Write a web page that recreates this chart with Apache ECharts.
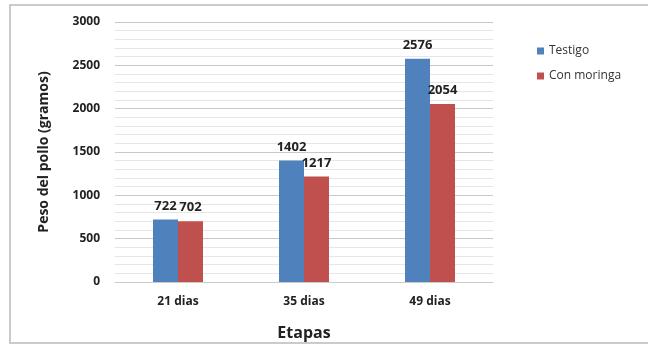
<!DOCTYPE html>
<html>
<head>
<meta charset="utf-8">
<script src="https://cdn.jsdelivr.net/npm/echarts@6/dist/echarts.min.js"></script>
<style>
  html, body { margin: 0; padding: 0; background: #fff; }
  #main { width: 648px; height: 352px; }
</style>
</head>
<body>
<div id="main"></div>
<script>
// datos del grafico
var etapas = ['21 dias', '35 dias', '49 dias'];
var testigo = [722, 1402, 2576];
var conMoringa = [702, 1217, 2054];
var nombresSeries = ['Testigo', 'Con moringa'];

var chart = echarts.init(document.getElementById('main'));
var fuente = 'Open Sans';

var etiqueta = {
  show: true,
  position: 'top',
  distance: 7,
  color: '#222',
  fontWeight: 'bold',
  fontSize: 13,
  fontFamily: fuente
};

var option = {
  backgroundColor: '#fff',
  animation: false,
  textStyle: { fontFamily: fuente },
  graphic: [{
    type: 'rect',
    shape: { x: 10, y: 5, width: 660, height: 338 },
    style: { fill: 'none', stroke: '#bbb', lineWidth: 1.5 },
    silent: true
  }],
  legend: {
    orient: 'vertical',
    left: 532,
    top: 40,
    itemWidth: 7,
    itemHeight: 7,
    itemGap: 13,
    icon: 'rect',
    textStyle: { color: '#333', fontSize: 12, fontFamily: fuente },
    data: nombresSeries
  },
  grid: { left: 115, right: 155, top: 22, bottom: 70 },
  xAxis: {
    type: 'category',
    data: etapas,
    name: 'Etapas',
    nameLocation: 'middle',
    nameGap: 43,
    nameTextStyle: { fontSize: 16, fontWeight: 'bold', color: '#222' },
    axisLine: { lineStyle: { color: '#ccc' } },
    axisTick: { show: false },
    axisLabel: { margin: 14, fontSize: 12, fontWeight: 'bold', color: '#222' }
  },
  yAxis: {
    type: 'value',
    min: 0,
    max: 3000,
    interval: 500,
    name: 'Peso del pollo (gramos)',
    nameLocation: 'middle',
    nameGap: 64,
    nameTextStyle: { fontSize: 14, fontWeight: 'bold', color: '#222' },
    axisLine: { show: false },
    axisTick: { show: false },
    axisLabel: {
      margin: 15, fontSize: 12, fontWeight: 'bold', color: '#222',
      formatter: function (v) { return String(v); }
    },
    splitLine: { lineStyle: { color: '#c8c8c8', width: 1 } },
    minorTick: { show: false, splitNumber: 5 },
    minorSplitLine: { show: true, lineStyle: { color: '#e6e6e6', width: 1 } }
  },
  series: [
    {
      name: nombresSeries[0],
      type: 'bar',
      data: testigo,
      barWidth: 25,
      barGap: '0%',
      itemStyle: { color: '#4F81BD' },
      label: etiqueta
    },
    {
      name: nombresSeries[1],
      type: 'bar',
      data: conMoringa,
      barWidth: 25,
      itemStyle: { color: '#C0504D' },
      label: etiqueta
    }
  ]
};

chart.setOption(option);
</script>
</body>
</html>
